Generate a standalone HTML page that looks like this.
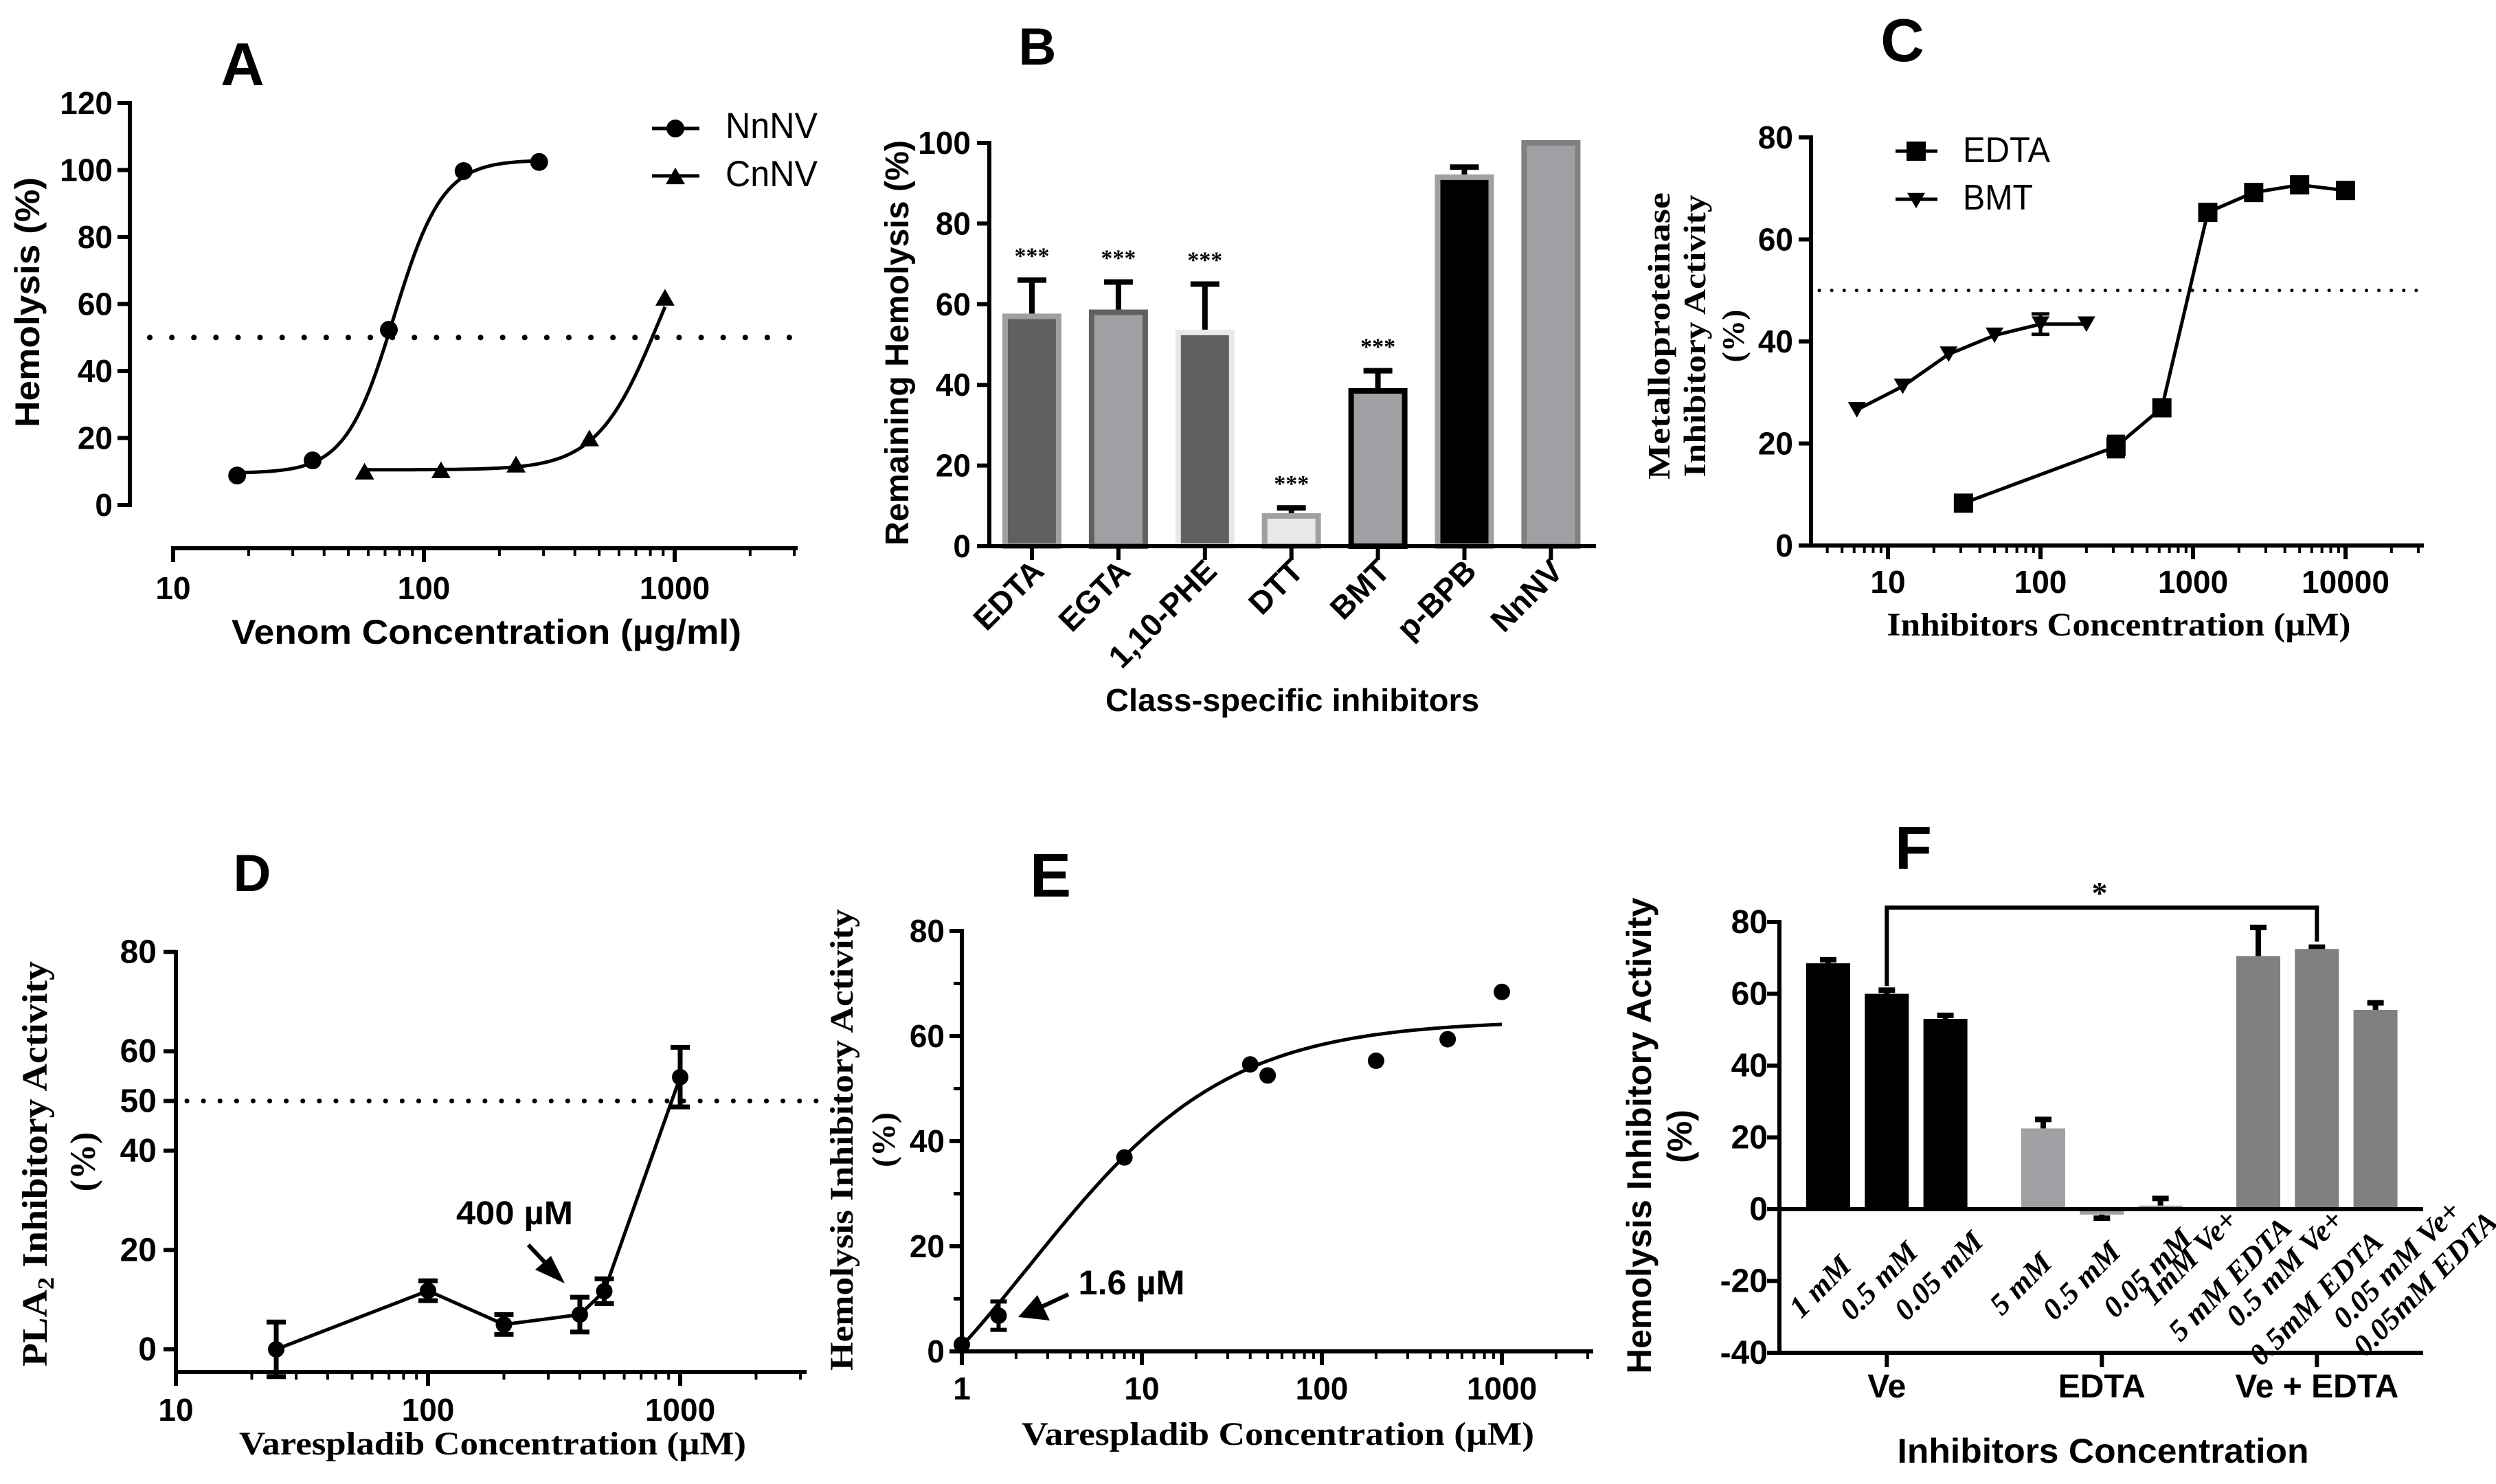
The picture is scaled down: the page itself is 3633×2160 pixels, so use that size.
<!DOCTYPE html>
<html><head><meta charset="utf-8">
<style>
html,body{margin:0;padding:0;background:#fff}
svg{display:block}
.sb{font-family:"Liberation Sans",sans-serif;font-weight:bold}
.tk{font-family:"Liberation Sans Narrow","Liberation Sans",sans-serif;font-weight:bold}
.sr{font-family:"Liberation Serif",serif;font-weight:bold}
.sri{font-family:"Liberation Serif",serif;font-weight:bold;font-style:italic}
.sn{font-family:"Liberation Sans",sans-serif}
</style></head>
<body>
<svg id="fig" width="3633" height="2160" viewBox="0 0 3633 2160" xmlns="http://www.w3.org/2000/svg">
<rect x="0" y="0" width="3633" height="2160" fill="#fff"/>
<!-- Panel letters -->
<text class="sb" x="353" y="124" font-size="88" text-anchor="middle">A</text>
<text class="sb" x="1510" y="94" font-size="76" text-anchor="middle">B</text>
<text class="sb" x="2769" y="89" font-size="88" text-anchor="middle">C</text>
<text class="sb" x="367" y="1297" font-size="76" text-anchor="middle">D</text>
<text class="sb" x="1529" y="1305" font-size="90" text-anchor="middle">E</text>
<text class="sb" x="2785" y="1265" font-size="88" text-anchor="middle">F</text>

<!-- Panel A titles -->
<text class="sb" x="708" y="937" font-size="50" text-anchor="middle" textLength="742" lengthAdjust="spacingAndGlyphs">Venom Concentration (µg/ml)</text>
<text class="sb" transform="translate(57,440) rotate(-90)" font-size="50" text-anchor="middle" textLength="364" lengthAdjust="spacingAndGlyphs">Hemolysis (%)</text>
<text class="sn" x="1056" y="201" font-size="53" textLength="134" lengthAdjust="spacingAndGlyphs">NnNV</text>
<text class="sn" x="1056" y="271" font-size="53" textLength="134" lengthAdjust="spacingAndGlyphs">CnNV</text>

<!-- Panel B titles -->
<text class="sb" x="1881" y="1035" font-size="46" text-anchor="middle" textLength="544" lengthAdjust="spacingAndGlyphs">Class-specific inhibitors</text>
<text class="sb" transform="translate(1322,499) rotate(-90)" font-size="48" text-anchor="middle" textLength="590" lengthAdjust="spacingAndGlyphs">Remaining Hemolysis (%)</text>

<!-- Panel C titles -->
<text class="sr" transform="translate(2430,489) rotate(-90)" font-size="46" text-anchor="middle" textLength="418" lengthAdjust="spacingAndGlyphs">Metalloproteinase</text>
<text class="sr" transform="translate(2482,489) rotate(-90)" font-size="46" text-anchor="middle" textLength="411" lengthAdjust="spacingAndGlyphs">Inhibitory Activity</text>
<text class="sr" transform="translate(2538,489) rotate(-90)" font-size="46" text-anchor="middle">(%)</text>
<text class="sr" x="3084" y="925" font-size="48" text-anchor="middle" textLength="675" lengthAdjust="spacingAndGlyphs">Inhibitors Concentration  (µM)</text>
<text class="sn" x="2857" y="236" font-size="52" textLength="127" lengthAdjust="spacingAndGlyphs">EDTA</text>
<text class="sn" x="2857" y="305" font-size="52" textLength="102" lengthAdjust="spacingAndGlyphs">BMT</text>

<!-- Panel D titles -->
<text class="sr" transform="translate(68,1694) rotate(-90)" font-size="52" text-anchor="middle" textLength="590" lengthAdjust="spacingAndGlyphs">PLA<tspan font-size="34" dy="10">2</tspan><tspan dy="-10"> Inhibitory Activity</tspan></text>
<text class="sr" transform="translate(138,1691) rotate(-90)" font-size="52" text-anchor="middle">(%)</text>
<text class="sr" x="717" y="2117" font-size="48" text-anchor="middle" textLength="738" lengthAdjust="spacingAndGlyphs">Varespladib Concentration  (µM)</text>
<text class="sb" x="749" y="1782" font-size="48" text-anchor="middle" textLength="170" lengthAdjust="spacingAndGlyphs">400 µM</text>

<!-- Panel E titles -->
<text class="sr" transform="translate(1241,1659) rotate(-90)" font-size="48" text-anchor="middle" textLength="672" lengthAdjust="spacingAndGlyphs">Hemolysis Inhibitory Activity</text>
<text class="sr" transform="translate(1302,1659) rotate(-90)" font-size="48" text-anchor="middle">(%)</text>
<text class="sr" x="1860" y="2103" font-size="48" text-anchor="middle" textLength="746" lengthAdjust="spacingAndGlyphs">Varespladib Concentration  (µM)</text>
<text class="sb" x="1647" y="1884" font-size="50" text-anchor="middle" textLength="155" lengthAdjust="spacingAndGlyphs">1.6 µM</text>

<!-- Panel F titles -->
<text class="sb" transform="translate(2403,1653) rotate(-90)" font-size="50" text-anchor="middle" textLength="693" lengthAdjust="spacingAndGlyphs">Hemolysis Inhibitory Activity</text>
<text class="sb" transform="translate(2462,1654) rotate(-90)" font-size="50" text-anchor="middle">(%)</text>
<text class="sb" x="3061" y="2129" font-size="50" text-anchor="middle" textLength="599" lengthAdjust="spacingAndGlyphs">Inhibitors Concentration</text>
<text class="sr" x="3056" y="1315" font-size="46" text-anchor="middle" font-weight="normal">*</text>
</svg>
<script>
// ---------- data ----------
const aNnConc=[18,36,72.5,144,288];
const aNnVal=[8.8,13.3,52.3,99.7,102.4];
const aCnConc=[58,117,233,457,915];
const aCnVal=[10.1,10.5,12.2,20,62];
const aNnFit=[9.5,103,76,4.5];
const aCnFit=[10.5,100,870,3.5];
const aYTicks=[0,20,40,60,80,100,120];
const aXTicks=[10,100,1000];

const bCats=['EDTA','EGTA','1,10-PHE','DTT','BMT','p-BPB','NnNV'];
const bVals=[57,58,53,7.5,38.5,91.5,100];
const bErr=[9,7.5,12,2,5,2.5,0];
const bSig=['***','***','***','***','***','',''];
const bYTicks=[0,20,40,60,80,100];

const cEdtaConc=[31.25,312.5,625,1250,2500,5000,10000];
const cEdtaVal=[8.3,19.4,27,65.3,69.2,70.7,69.6];
const cEdtaErr=[0,2,1.5,1.5,0.5,0.5,0.5];
const cBmtConc=[6.25,12.5,25,50,100,200];
const cBmtVal=[26.6,31.2,37.5,41.2,43.4,43.4];
const cBmtErr=[0,0,0,0,2,0];
const cYTicks=[0,20,40,60,80];
const cXTicks=[10,100,1000,10000];

const dConc=[25,100,200,400,500,1000];
const dVal=[0,11.8,5,7,11.7,54.8];
const dErr=[5.5,2,2,3.5,2.5,6];
const dYTicks=[0,20,40,50,60,80];
const dXTicks=[10,100,1000];

const eConc=[1,1.6,8,40,50,200,500,1000];
const eVal=[1.3,6.8,36.9,54.6,52.5,55.3,59.4,68.4];
const eErr=[0,2.7,0,0,0,0,0,0];
const eFit=[-30,63,0.38,0.791];
const eYTicks=[0,20,40,60,80];
const eXTicks=[1,10,100,1000];

const fLabels=['1 mM','0.5 mM','0.05 mM','5 mM','0.5 mM','0.05 mM','1mM Ve+','5 mM EDTA','0.5 mM Ve+','0.5mM EDTA','0.05 mM Ve+','0.05mM EDTA'];
const fVals=[68.5,60,53,22.5,-1.5,1,70.5,72.5,55.5];
const fErr=[1,1,1,2.5,-1,2,8,0.5,2];
const fGroups=['Ve','EDTA','Ve + EDTA'];
const fYTicks=[-40,-20,0,20,40,60,80];

// ---------- helpers ----------
const NS='http://www.w3.org/2000/svg';
const svg=document.getElementById('fig');
function add(p,tag,at,name){
  const e=document.createElementNS(NS,tag);
  for(const k in at) e.setAttribute(k,at[k]);
  
  
  p.appendChild(e);
  return e;
}
function grp(name){return add(svg,'g',{},name);}
function ln(p,x1,y1,x2,y2,w,name,col){return add(p,'line',{x1:x1,y1:y1,x2:x2,y2:y2,stroke:col||'#000','stroke-width':w},name);}
function tx(p,x,y,s,cls,fs,anchor,name){const t=add(p,'text',{x:x,y:y,'class':cls,'font-size':fs,'text-anchor':anchor},name);t.textContent=s;return t;}
function yAxis(p,x,yTop,yBot,ticks,ys,fs,lx,pre){
  ln(p,x,yTop-3,x,yBot+3,6,pre+'-y-axis-line');
  ticks.forEach(v=>{
    ln(p,x-18,ys(v),x,ys(v),6,pre+'-y-tick');
    tx(p,lx,ys(v)+16,String(v),'tk',fs,'end',pre+'-y-tick-label');
  });
}
function logXAxis(p,y,x0,x1,xs,majors,ly,fs,pre){
  ln(p,x0-3,y,x1,y,6,pre+'-x-axis-line');
  for(let d=-1;d<6;d++){for(let m=1;m<10;m++){
    const v=m*Math.pow(10,d);const x=xs(v);
    if(x<x0-1||x>x1+1) continue;
    const maj=(m===1);
    ln(p,x,y,x,y+(maj?20:11),maj?6:4,pre+(maj?'-x-major-tick':'-x-minor-tick'));
  }}
  majors.forEach(v=>tx(p,xs(v),ly,String(v),'tk',fs,'middle',pre+'-x-tick-label'));
}
function dotted(p,x0,x1,y,w,gap,name){add(p,'line',{x1:x0,y1:y,x2:x1,y2:y,stroke:'#000','stroke-width':w,'stroke-dasharray':'0.1 '+gap,'stroke-linecap':'round'},name);}
function errBar(p,x,y1,y2,cap,w,name){
  ln(p,x,y1,x,y2,w,name+'-stem');
  ln(p,x-cap/2,y2,x+cap/2,y2,w,name+'-cap');
}
function tri(p,x,y,s,down,name){
  const h=s*0.87;
  const pts=down?`${x-s/2},${y-h/2} ${x+s/2},${y-h/2} ${x},${y+h/2}`:`${x-s/2},${y+h/2} ${x+s/2},${y+h/2} ${x},${y-h/2}`;
  return add(p,'polygon',{points:pts,fill:'#000'},name);
}
function curve(p,f,xs,ys,c0,c1,name){
  let d='';const n=80;
  for(let i=0;i<=n;i++){const c=Math.pow(10,Math.log10(c0)+(Math.log10(c1)-Math.log10(c0))*i/n);d+=(i?'L':'M')+xs(c).toFixed(1)+','+ys(f(c)).toFixed(1);}
  return add(p,'path',{d:d,fill:'none',stroke:'#000','stroke-width':5},name);
}
function polyl(p,xs,ys,cs,vs,name){
  const pts=cs.map((c,i)=>xs(c).toFixed(1)+','+ys(vs[i]).toFixed(1)).join(' ');
  return add(p,'polyline',{points:pts,fill:'none',stroke:'#000','stroke-width':5},name);
}
const hill=(P)=>c=>P[0]+(P[1]-P[0])/(1+Math.pow(P[2]/c,P[3]));

// ---------- Panel A ----------
(function(){
  const g=grp('panel-a');
  const ys=v=>735-v*4.875, xs=c=>252+365*Math.log10(c/10);
  yAxis(g,189,150,735,aYTicks,ys,46,164,'a');
  logXAxis(g,798,252,1161,xs,aXTicks,872,46,'a');
  dotted(g,218,1155,ys(50),8,32,'a-50-percent-line');
  curve(g,hill(aNnFit),xs,ys,18,288,'a-nnnv-fit-curve');
  curve(g,hill(aCnFit),xs,ys,58,915,'a-cnnv-fit-curve');
  aNnConc.forEach((c,i)=>add(g,'circle',{cx:xs(c),cy:ys(aNnVal[i]),r:13,fill:'#000'},'a-nnnv-point'));
  aCnConc.forEach((c,i)=>tri(g,xs(c),ys(aCnVal[i]),28,false,'a-cnnv-point'));
  ln(g,949,187,1018,187,5,'a-legend-nnnv-line');
  add(g,'circle',{cx:983,cy:187,r:13,fill:'#000'},'a-legend-nnnv-marker');
  ln(g,949,256,1018,256,5,'a-legend-cnnv-line');
  tri(g,983,256,28,false,'a-legend-cnnv-marker');
})();

// ---------- Panel B ----------
(function(){
  const g=grp('panel-b');
  const ys=v=>795-v*5.87, xs=i=>1502+i*125.9;
  const fills=['#606060','#a0a0a4','#606060','#e8e8e8','#a0a0a4','#000000','#a0a0a4'];
  const strokes=['#a0a0a0','#606060','#e8e8e8','#a0a0a0','#000000','#a0a0a0','#808080'];
  bVals.forEach((v,i)=>{
    const x=xs(i);
    if(bErr[i]>0) errBar(g,x,ys(v),ys(v+bErr[i]),42,8,'b-error-bar-'+bCats[i]);
    add(g,'rect',{x:x-39,y:ys(v),width:78,height:795-ys(v),fill:fills[i],stroke:strokes[i],'stroke-width':8},'b-bar-'+bCats[i]);
    if(bSig[i]) tx(g,x,ys(v+bErr[i])-24,bSig[i],'sr',34,'middle','b-significance-'+bCats[i]).setAttribute('font-weight','normal');
    ln(g,x,795,x,815,6,'b-x-tick');
    const t=tx(g,0,0,bCats[i],'sb',46,'end','b-x-tick-label');
    t.setAttribute('transform',`translate(${x+20},${834}) rotate(-45)`);
  });
  yAxis(g,1440,208,795,bYTicks,ys,46,1413,'b');
  ln(g,1437,795,2323,795,6,'b-x-axis-line');
})();

// ---------- Panel C ----------
(function(){
  const g=grp('panel-c');
  const ys=v=>794-v*7.425, xs=c=>2748+222*Math.log10(c/10);
  yAxis(g,2636,200,794,cYTicks,ys,46,2610,'c');
  logXAxis(g,794,2636,3528,xs,cXTicks,863,46,'c');
  dotted(g,2648,3528,ys(50),5,18,'c-50-percent-line');
  polyl(g,xs,ys,cEdtaConc,cEdtaVal,'c-edta-line');
  polyl(g,xs,ys,cBmtConc,cBmtVal,'c-bmt-line');
  cEdtaConc.forEach((c,i)=>{
    if(cEdtaErr[i]>0){errBar(g,xs(c),ys(cEdtaVal[i]),ys(cEdtaVal[i]+cEdtaErr[i]),26,5,'c-edta-error');errBar(g,xs(c),ys(cEdtaVal[i]),ys(cEdtaVal[i]-cEdtaErr[i]),26,5,'c-edta-error');}
    add(g,'rect',{x:xs(c)-14,y:ys(cEdtaVal[i])-14,width:28,height:28,fill:'#000'},'c-edta-point');
  });
  cBmtConc.forEach((c,i)=>{
    if(cBmtErr[i]>0){errBar(g,xs(c),ys(cBmtVal[i]),ys(cBmtVal[i]+cBmtErr[i]),26,5,'c-bmt-error');errBar(g,xs(c),ys(cBmtVal[i]),ys(cBmtVal[i]-cBmtErr[i]),26,5,'c-bmt-error');}
    tri(g,xs(c),ys(cBmtVal[i]),26,true,'c-bmt-point');
  });
  ln(g,2759,220,2820,220,5,'c-legend-edta-line');
  add(g,'rect',{x:2775,y:206,width:28,height:28,fill:'#000'},'c-legend-edta-marker');
  ln(g,2759,290,2820,290,5,'c-legend-bmt-line');
  tri(g,2789,292,26,true,'c-legend-bmt-marker');
})();

// ---------- Panel D ----------
(function(){
  const g=grp('panel-d');
  const ys=v=>1964-v*7.23, xs=c=>256+367*Math.log10(c/10);
  yAxis(g,256,1386,1997,dYTicks,ys,48,228,'d');
  logXAxis(g,1997,256,1174,xs,dXTicks,2068,46,'d');
  dotted(g,272,1200,ys(50),7,24,'d-50-percent-line');
  polyl(g,xs,ys,dConc,dVal,'d-series-line');
  dConc.forEach((c,i)=>{
    errBar(g,xs(c),ys(dVal[i]),ys(dVal[i]+dErr[i]),28,7,'d-error-bar');
    errBar(g,xs(c),ys(dVal[i]),ys(dVal[i]-dErr[i]),28,7,'d-error-bar');
    add(g,'circle',{cx:xs(c),cy:ys(dVal[i]),r:12,fill:'#000'},'d-point');
  });
  ln(g,769,1812,806,1851,6,'d-arrow-shaft');
  add(g,'polygon',{points:'822,1868 779,1848 802,1828',fill:'#000'},'d-arrow-head');
})();

// ---------- Panel E ----------
(function(){
  const g=grp('panel-e');
  const ys=v=>1967-v*7.65, xs=c=>1400+262*Math.log10(c);
  ln(g,1400,1352,1400,1970,6,'e-y-axis-line');
  for(let v=10;v<80;v+=20) ln(g,1388,ys(v),1400,ys(v),5,'e-y-minor-tick');
  eYTicks.forEach(v=>{ln(g,1382,ys(v),1400,ys(v),6,'e-y-tick');tx(g,1375,ys(v)+16,String(v),'tk',46,'end','e-y-tick-label');});
  logXAxis(g,1967,1400,2319,xs,eXTicks,2037,46,'e');
  curve(g,c=>eFit[0]+(eFit[1]-eFit[0])/(1+Math.pow(10,(eFit[2]-Math.log10(c))*eFit[3])),xs,ys,1,1000,'e-fit-curve');
  eConc.forEach((c,i)=>{
    if(eErr[i]>0){errBar(g,xs(c),ys(eVal[i]),ys(eVal[i]+eErr[i]),24,6,'e-error-bar');errBar(g,xs(c),ys(eVal[i]),ys(eVal[i]-eErr[i]),24,6,'e-error-bar');}
    add(g,'circle',{cx:xs(c),cy:ys(eVal[i]),r:12,fill:'#000'},'e-point');
  });
  ln(g,1555,1884,1512,1904,6,'e-arrow-shaft');
  add(g,'polygon',{points:'1482,1917 1510,1885 1528,1922',fill:'#000'},'e-arrow-head');
})();

// ---------- Panel F ----------
(function(){
  const g=grp('panel-f');
  const ys=v=>1760-v*5.225;
  const xs=i=>2661+Math.floor(i/3)*313+(i%3)*85.3;
  const fills=['#000','#000','#000','#a0a0a4','#a0a0a4','#a0a0a4','#808080','#808080','#808080'];
  yAxis(g,2590,1342,1969,fYTicks,ys,48,2573,'f');
  fVals.forEach((v,i)=>{
    const x=xs(i);
    errBar(g,x,ys(v),ys(v+fErr[i]),24,8,'f-error-bar');
    const top=Math.min(ys(v),ys(0)),h=Math.abs(ys(v)-ys(0));
    add(g,'rect',{x:x-32,y:top,width:64,height:Math.max(h,1),fill:fills[i]},'f-bar');
  });
  ln(g,2587,1760,3527,1760,6,'f-zero-line');
  ln(g,2587,1969,3527,1969,6,'f-x-axis-line');
  fGroups.forEach((s,k)=>{
    const x=xs(k*3+1);
    ln(g,x,1969,x,1990,6,'f-group-tick');
    tx(g,x,2034,s,'sb',48,'middle','f-group-label');
  });
  const ends=[[2697,1845],[2794,1825],[2889,1810],[2989,1841],[3089,1825],[3193,1806],[3259,1778],[3338,1790],[3413,1778],[3471,1810],[3584,1765],[3638,1781]];
  fLabels.forEach((s,i)=>{
    const t=tx(g,0,0,s,'sri',44,'end','f-bar-label');
    t.setAttribute('transform',`translate(${ends[i][0]},${ends[i][1]}) rotate(-45)`);
  });
  add(g,'path',{d:`M${xs(1)},${ys(61)-6} V1321 H${xs(7)} V${ys(73)-8}`,fill:'none',stroke:'#000','stroke-width':6},'f-significance-bracket');
})();
</script>
</body></html>
